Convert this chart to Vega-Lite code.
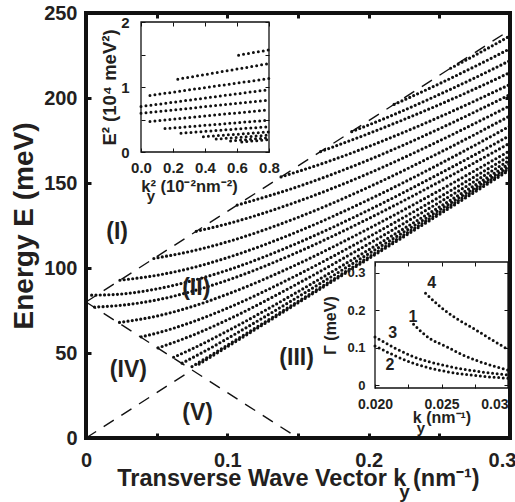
{
"$schema": "https://vega.github.io/schema/vega-lite/v6.json",
"width": 424, "height": 425,
"autosize": {"type": "none"},
"padding": {"left": 86, "top": 13, "right": 5, "bottom": 64},
"config": {
  "view": {"stroke": "#111", "strokeWidth": 4},
  "font": "Liberation Sans",
  "text": {"font": "Liberation Sans", "fontWeight": "bold", "color": "#231f20"},
  "axis": {"grid": false, "labelFont": "Liberation Sans", "titleFont": "Liberation Sans", "labelFontWeight": "bold", "titleFontWeight": "bold", "labelColor": "#231f20", "titleColor": "#231f20", "tickColor": "#111", "domain": false}
},
"datasets": {
  "main": [
    {"c":"U1","k":0.258,"E":217.5},{"c":"U1","k":0.28,"E":227.3},{"c":"U1","k":0.3,"E":236.5},
    {"c":"U2","k":0.218,"E":196.2},{"c":"U2","k":0.25,"E":208.4},{"c":"U2","k":0.275,"E":218.5},{"c":"U2","k":0.3,"E":229},
    {"c":"U3","k":0.188,"E":180.2},{"c":"U3","k":0.22,"E":191},{"c":"U3","k":0.25,"E":202.1},{"c":"U3","k":0.275,"E":211.8},{"c":"U3","k":0.3,"E":222},
    {"c":"U4","k":0.166,"E":168.5},{"c":"U4","k":0.2,"E":179.1},{"c":"U4","k":0.25,"E":196.1},{"c":"U4","k":0.275,"E":205.3},{"c":"U4","k":0.3,"E":215},
    {"c":"U5","k":0.138,"E":153.6},{"c":"U5","k":0.175,"E":163.7},{"c":"U5","k":0.2,"E":171.5},{"c":"U5","k":0.25,"E":188.8},{"c":"U5","k":0.3,"E":208},
    {"c":"U6","k":0.107,"E":137},{"c":"U6","k":0.15,"E":147.9},{"c":"U6","k":0.2,"E":163.6},{"c":"U6","k":0.25,"E":181.9},{"c":"U6","k":0.3,"E":202},
    {"c":"A","k":0.078,"E":121.6},{"c":"A","k":0.1,"E":126},{"c":"A","k":0.15,"E":139.2},{"c":"A","k":0.2,"E":155.7},{"c":"A","k":0.25,"E":174.8},{"c":"A","k":0.3,"E":195.5},
    {"c":"B","k":0.048,"E":105.6},{"c":"B","k":0.075,"E":110},{"c":"B","k":0.1,"E":115.4},{"c":"B","k":0.15,"E":129.8},{"c":"B","k":0.2,"E":147.6},{"c":"B","k":0.25,"E":167.8},{"c":"B","k":0.3,"E":189.5},
    {"c":"C","k":0.024,"E":92.8},{"c":"C","k":0.05,"E":95.7},{"c":"C","k":0.075,"E":100.1},{"c":"C","k":0.1,"E":106.1},{"c":"C","k":0.15,"E":121.5},{"c":"C","k":0.2,"E":140.2},{"c":"C","k":0.25,"E":161.1},{"c":"C","k":0.3,"E":183.5},
    {"c":"D","k":0.004,"E":84},{"c":"D","k":0.025,"E":84.7},{"c":"D","k":0.05,"E":87.7},{"c":"D","k":0.075,"E":92.5},{"c":"D","k":0.1,"E":98.7},{"c":"D","k":0.15,"E":114.8},{"c":"D","k":0.2,"E":134.1},{"c":"D","k":0.25,"E":155.4},{"c":"D","k":0.3,"E":178},
    {"c":"E","k":0.006,"E":77},{"c":"E","k":0.025,"E":78.1},{"c":"E","k":0.05,"E":81.2},{"c":"E","k":0.075,"E":86.3},{"c":"E","k":0.1,"E":92.8},{"c":"E","k":0.15,"E":109.4},{"c":"E","k":0.2,"E":129.1},{"c":"E","k":0.25,"E":150.7},{"c":"E","k":0.3,"E":173.5},
    {"c":"F","k":0.0237,"E":68},{"c":"F","k":0.05,"E":71.7},{"c":"F","k":0.075,"E":77.3},{"c":"F","k":0.1,"E":84.6},{"c":"F","k":0.15,"E":102.4},{"c":"F","k":0.2,"E":123.2},{"c":"F","k":0.25,"E":145.6},{"c":"F","k":0.3,"E":169},
    {"c":"G","k":0.039,"E":59.5},{"c":"G","k":0.05,"E":61.7},{"c":"G","k":0.075,"E":68.2},{"c":"G","k":0.1,"E":76.4},{"c":"G","k":0.15,"E":96.1},{"c":"G","k":0.2,"E":118.3},{"c":"G","k":0.25,"E":141.7},{"c":"G","k":0.3,"E":166},
    {"c":"H","k":0.051,"E":53},{"c":"H","k":0.075,"E":60.3},{"c":"H","k":0.1,"E":69.5},{"c":"H","k":0.15,"E":90.9},{"c":"H","k":0.2,"E":114.2},{"c":"H","k":0.25,"E":138.6},{"c":"H","k":0.3,"E":163.5},
    {"c":"I","k":0.062,"E":47.5},{"c":"I","k":0.075,"E":52.4},{"c":"I","k":0.1,"E":62.9},{"c":"I","k":0.15,"E":86.1},{"c":"I","k":0.2,"E":110.7},{"c":"I","k":0.25,"E":135.9},{"c":"I","k":0.3,"E":161.5},
    {"c":"J","k":0.068,"E":44},{"c":"J","k":0.085,"E":51.5},{"c":"J","k":0.1,"E":58.5},{"c":"J","k":0.15,"E":83},{"c":"J","k":0.2,"E":108.4},{"c":"J","k":0.25,"E":134.1},{"c":"J","k":0.3,"E":160},
    {"c":"K","k":0.075,"E":42},{"c":"K","k":0.085,"E":47},{"c":"K","k":0.1,"E":54.6},{"c":"K","k":0.15,"E":80.3},{"c":"K","k":0.2,"E":106.4},{"c":"K","k":0.25,"E":132.6},{"c":"K","k":0.3,"E":158.8},
    {"c":"L","k":0.08,"E":43.5},{"c":"L","k":0.09,"E":48.6},{"c":"L","k":0.1,"E":53.7},{"c":"L","k":0.15,"E":79.5},{"c":"L","k":0.2,"E":105.5},{"c":"L","k":0.25,"E":131.5},{"c":"L","k":0.3,"E":157.8}
  ],
  "dash": [
    {"s":"up","k":0,"E":80},{"s":"up","k":0.3,"E":240},
    {"s":"down","k":0,"E":80},{"s":"down","k":0.15,"E":0},
    {"s":"light","k":0,"E":0},{"s":"light","k":0.075,"E":40}
  ],
  "regions": [
    {"t":"(I)","k":0.022,"E":121},{"t":"(II)","k":0.078,"E":88},{"t":"(III)","k":0.149,"E":47},{"t":"(IV)","k":0.03,"E":40},{"t":"(V)","k":0.079,"E":14.7}
  ],
  "in1": [
    {"r":"A","k2":0.61,"e2":1.49},{"r":"A","k2":0.8,"e2":1.57},
    {"r":"B","k2":0.23,"e2":1.12},{"r":"B","k2":0.8,"e2":1.36},
    {"r":"C","k2":0.056,"e2":0.87},{"r":"C","k2":0.8,"e2":1.13},
    {"r":"D","k2":0,"e2":0.70},{"r":"D","k2":0.8,"e2":0.96},
    {"r":"E","k2":0,"e2":0.595},{"r":"E","k2":0.8,"e2":0.80},
    {"r":"F","k2":0.056,"e2":0.47},{"r":"F","k2":0.8,"e2":0.65},
    {"r":"G","k2":0.15,"e2":0.36},{"r":"G","k2":0.8,"e2":0.49},
    {"r":"H","k2":0.25,"e2":0.29},{"r":"H","k2":0.8,"e2":0.39},
    {"r":"I","k2":0.39,"e2":0.235},{"r":"I","k2":0.8,"e2":0.31},
    {"r":"J","k2":0.47,"e2":0.2},{"r":"J","k2":0.8,"e2":0.26},
    {"r":"K","k2":0.56,"e2":0.17},{"r":"K","k2":0.8,"e2":0.22},
    {"r":"L","k2":0.63,"e2":0.155},{"r":"L","k2":0.8,"e2":0.19}
  ],
  "in2": [
    {"c":"4","k":0.0238,"g":0.2445},{"c":"4","k":0.0249,"g":0.209},{"c":"4","k":0.0261,"g":0.178},{"c":"4","k":0.0274,"g":0.151},{"c":"4","k":0.0286,"g":0.1245},{"c":"4","k":0.030,"g":0.095},
    {"c":"1","k":0.0229,"g":0.162},{"c":"1","k":0.0241,"g":0.1245},{"c":"1","k":0.0254,"g":0.102},{"c":"1","k":0.0266,"g":0.08},{"c":"1","k":0.0279,"g":0.062},{"c":"1","k":0.030,"g":0.04},
    {"c":"3","k":0.020,"g":0.128},{"c":"3","k":0.0229,"g":0.0755},{"c":"3","k":0.0254,"g":0.0507},{"c":"3","k":0.0279,"g":0.0355},{"c":"3","k":0.030,"g":0.027},
    {"c":"2","k":0.020,"g":0.104},{"c":"2","k":0.0229,"g":0.058},{"c":"2","k":0.0254,"g":0.0355},{"c":"2","k":0.0279,"g":0.024},{"c":"2","k":0.030,"g":0.018}
  ],
  "in2lab": [
    {"t":"4","k":0.02426,"g":0.272},{"t":"1","k":0.02286,"g":0.181},{"t":"3","k":0.02133,"g":0.139},{"t":"2","k":0.02113,"g":0.053}
  ]
},
"layer": [
  {
    "data": {"name": "main"},
    "mark": {"type": "line", "interpolate": "monotone", "strokeDash": [0, 4.3], "strokeCap": "round", "strokeWidth": 3.2, "color": "#111"},
    "encoding": {
      "x": {"field": "k", "type": "quantitative", "scale": {"domain": [0, 0.3]},
        "axis": {"orient": "bottom", "values": [0, 0.05, 0.1, 0.15, 0.2, 0.25, 0.3],
          "labelExpr": "datum.value == 0 ? '0' : datum.value == 0.1 ? '0.1' : datum.value == 0.2 ? '0.2' : datum.value == 0.3 ? '0.3' : ''",
          "labelFlush": false, "labelOffset": {"condition": {"test": "datum.value == 0.3", "value": -8}, "value": 0},
          "tickSize": -5, "tickWidth": 3, "labelFontSize": 20, "labelPadding": 17,
          "title": "Transverse Wave Vector k (nm⁻¹)", "titleFontSize": 23.5, "titlePadding": -4}},
      "y": {"field": "E", "type": "quantitative", "scale": {"domain": [0, 250]},
        "axis": {"orient": "left", "values": [0, 50, 100, 150, 200, 250], "tickSize": -5, "tickWidth": 3, "labelFontSize": 20, "labelPadding": 14,
          "title": "Energy E (meV)", "titleFontSize": 28, "titlePadding": 5}},
      "detail": {"field": "c"}
    }
  },
  {
    "data": {"name": "dash"},
    "mark": {"type": "line", "strokeDash": [12, 9], "strokeWidth": 1.4, "color": "#111"},
    "encoding": {
      "x": {"field": "k", "type": "quantitative", "scale": {"domain": [0, 0.3]},
        "axis": {"orient": "top", "values": [0, 0.05, 0.1, 0.15, 0.2, 0.25, 0.3], "labels": false, "title": null, "tickSize": -5, "tickWidth": 3}},
      "y": {"field": "E", "type": "quantitative", "scale": {"domain": [0, 250]},
        "axis": {"orient": "right", "values": [0, 50, 100, 150, 200, 250], "labels": false, "title": null, "tickSize": -5, "tickWidth": 3}},
      "detail": {"field": "s"}
    }
  },
  {
    "data": {"name": "regions"},
    "mark": {"type": "text", "fontSize": 23, "fontWeight": "bold", "align": "center", "baseline": "middle"},
    "encoding": {
      "x": {"field": "k", "type": "quantitative", "scale": {"domain": [0, 0.3]}, "axis": null},
      "y": {"field": "E", "type": "quantitative", "scale": {"domain": [0, 250]}, "axis": null},
      "text": {"field": "t"}
    }
  },
  {
    "data": {"values": [{"k": 0.2253, "E": -35.3, "t": "y"}]},
    "mark": {"type": "text", "fontSize": 19, "fontWeight": "bold", "align": "center", "baseline": "alphabetic"},
    "encoding": {
      "x": {"field": "k", "type": "quantitative", "scale": {"domain": [0, 0.3]}, "axis": null},
      "y": {"field": "E", "type": "quantitative", "scale": {"domain": [0, 250]}, "axis": null},
      "text": {"field": "t"}
    }
  },
  {
    "data": {"values": [{"x": 0, "x2": 0.8, "y": 0, "y2": 2}]},
    "mark": {"type": "rect", "fill": "white", "stroke": "#111", "strokeWidth": 1.3},
    "encoding": {
      "x": {"field": "x", "type": "quantitative", "scale": {"domain": [0, 0.8], "range": [55, 183]},
        "axis": {"orient": "bottom", "offset": -286, "values": [0, 0.2, 0.4, 0.6, 0.8], "format": ".1f", "tickSize": -4, "tickWidth": 1, "labelFontSize": 15, "labelPadding": 12.5, "labelFlush": false,
          "title": "k² (10⁻²nm⁻²)", "titleFontSize": 16.5, "titlePadding": 3, "titleX": 103, "zindex": 1}},
      "x2": {"field": "x2"},
      "y": {"field": "y", "type": "quantitative", "scale": {"domain": [0, 2], "range": [139, 9]},
        "axis": {"orient": "left", "offset": -55, "values": [0, 0.5, 1, 1.5, 2], "labelExpr": "datum.value == 0 ? '0' : datum.value == 1 ? '1' : datum.value == 2 ? '2' : ''", "tickSize": -4, "tickWidth": 1, "labelFontSize": 15, "labelPadding": 16, "labelFlush": false,
          "title": "E² (10⁴ meV²)", "titleFontSize": 18.5, "titlePadding": 1, "zindex": 1}},
      "y2": {"field": "y2"}
    }
  },
  {
    "data": {"name": "in1"},
    "mark": {"type": "line", "strokeDash": [0, 5], "strokeCap": "round", "strokeWidth": 3, "color": "#111"},
    "encoding": {
      "x": {"field": "k2", "type": "quantitative", "scale": {"domain": [0, 0.8], "range": [55, 183]},
        "axis": {"orient": "top", "offset": -9, "values": [0, 0.2, 0.4, 0.6, 0.8], "labels": false, "title": null, "tickSize": -4, "tickWidth": 1, "zindex": 1}},
      "y": {"field": "e2", "type": "quantitative", "scale": {"domain": [0, 2], "range": [139, 9]},
        "axis": {"orient": "right", "offset": -241, "values": [0, 0.5, 1, 1.5, 2], "labels": false, "title": null, "tickSize": -4, "tickWidth": 1, "zindex": 1}},
      "detail": {"field": "r"}
    }
  },
  {
    "data": {"values": [{"x": 0.0625, "y": -0.75, "t": "y"}]},
    "mark": {"type": "text", "fontSize": 15, "fontWeight": "bold", "align": "center", "baseline": "alphabetic"},
    "encoding": {
      "x": {"field": "x", "type": "quantitative", "scale": {"domain": [0, 0.8], "range": [55, 183]}, "axis": null},
      "y": {"field": "y", "type": "quantitative", "scale": {"domain": [0, 2], "range": [139, 9]}, "axis": null},
      "text": {"field": "t"}
    }
  },
  {
    "data": {"values": [{"x": 0.02, "x2": 0.03, "y": -0.008, "y2": 0.328}]},
    "mark": {"type": "rect", "fill": "white", "stroke": "#111", "strokeWidth": 1.3},
    "encoding": {
      "x": {"field": "x", "type": "quantitative", "scale": {"domain": [0.02, 0.03], "range": [289, 422]},
        "axis": {"orient": "bottom", "offset": -50, "values": [0.02, 0.0225, 0.025, 0.0275, 0.03],
          "labelExpr": "datum.value == 0.02 ? '0.020' : datum.value == 0.025 ? '0.025' : datum.value == 0.03 ? '0.03' : ''",
          "labelAlign": {"condition": {"test": "datum.value == 0.03", "value": "right"}, "value": "center"},
          "tickSize": -4, "tickWidth": 1, "labelFontSize": 14, "labelPadding": 13, "labelFlush": false,
          "title": "k  (nm⁻¹)", "titleFontSize": 16, "titlePadding": -2, "zindex": 1}},
      "x2": {"field": "x2"},
      "y": {"field": "y", "type": "quantitative", "scale": {"domain": [-0.008, 0.328], "range": [375, 249]},
        "axis": {"orient": "left", "offset": -289, "values": [0, 0.1, 0.2, 0.3], "labelExpr": "datum.value == 0 ? '0' : datum.value == 0.1 ? '0.1' : datum.value == 0.2 ? '0.2' : '0.3'", "tickSize": -4, "tickWidth": 1, "labelFontSize": 13, "labelPadding": 14, "labelFlush": false,
          "title": "Γ (meV)", "titleFontSize": 16, "titlePadding": 8, "zindex": 1}},
      "y2": {"field": "y2"}
    }
  },
  {
    "data": {"name": "in2"},
    "mark": {"type": "line", "interpolate": "monotone", "strokeDash": [0, 4.6], "strokeCap": "round", "strokeWidth": 3, "color": "#111"},
    "encoding": {
      "x": {"field": "k", "type": "quantitative", "scale": {"domain": [0.02, 0.03], "range": [289, 422]},
        "axis": {"orient": "top", "offset": -249, "values": [0.02, 0.0225, 0.025, 0.0275, 0.03], "labels": false, "title": null, "tickSize": -4, "tickWidth": 1, "zindex": 1}},
      "y": {"field": "g", "type": "quantitative", "scale": {"domain": [-0.008, 0.328], "range": [375, 249]},
        "axis": {"orient": "right", "offset": -2, "values": [0, 0.1, 0.2, 0.3], "labels": false, "title": null, "tickSize": -4, "tickWidth": 1, "zindex": 1}},
      "detail": {"field": "c"}
    }
  },
  {
    "data": {"name": "in2lab"},
    "mark": {"type": "text", "fontSize": 16, "fontWeight": "bold", "align": "center", "baseline": "middle"},
    "encoding": {
      "x": {"field": "k", "type": "quantitative", "scale": {"domain": [0.02, 0.03], "range": [289, 422]}, "axis": null},
      "y": {"field": "g", "type": "quantitative", "scale": {"domain": [-0.008, 0.328], "range": [375, 249]}, "axis": null},
      "text": {"field": "t"}
    }
  },
  {
    "data": {"values": [{"k": 0.02346, "g": -0.128, "t": "y"}]},
    "mark": {"type": "text", "fontSize": 15, "fontWeight": "bold", "align": "center", "baseline": "alphabetic"},
    "encoding": {
      "x": {"field": "k", "type": "quantitative", "scale": {"domain": [0.02, 0.03], "range": [289, 422]}, "axis": null},
      "y": {"field": "g", "type": "quantitative", "scale": {"domain": [-0.008, 0.328], "range": [375, 249]}, "axis": null},
      "text": {"field": "t"}
    }
  }
],
"resolve": {"scale": {"x": "independent", "y": "independent"}, "axis": {"x": "independent", "y": "independent"}}
}
